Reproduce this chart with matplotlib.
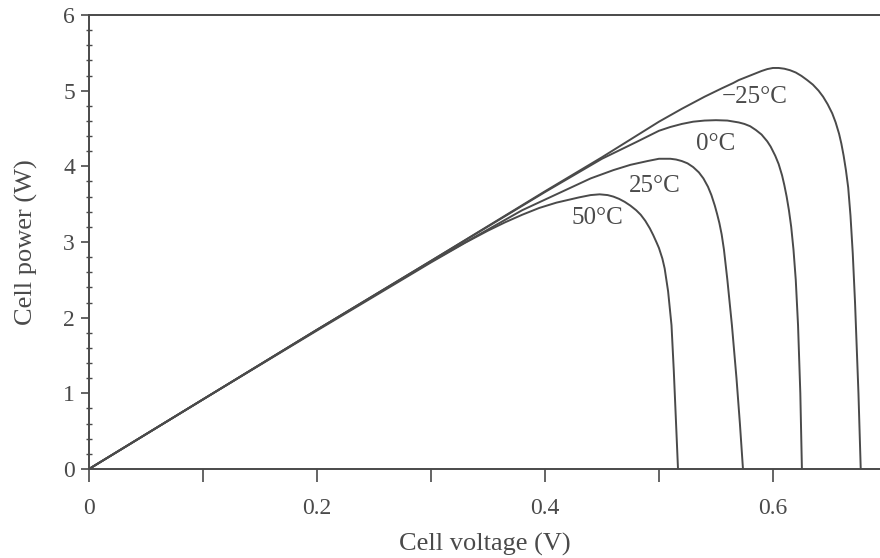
import matplotlib
matplotlib.use("Agg")
import matplotlib.pyplot as plt
from matplotlib.ticker import MultipleLocator

# power vs voltage curves, one pair of lists per temperature
v_m25 = [0.000, 0.100, 0.200, 0.300, 0.400, 0.450, 0.500, 0.520, 0.540, 0.555, 0.565,
         0.570, 0.580, 0.590, 0.595, 0.600, 0.605, 0.610, 0.615, 0.620, 0.625, 0.630,
         0.635, 0.640, 0.644, 0.648, 0.652, 0.655, 0.658, 0.660, 0.662, 0.664, 0.666,
         0.668, 0.670, 0.672, 0.674, 0.675, 0.676, 0.677]
p_m25 = [0.00, 0.92, 1.84, 2.75, 3.67, 4.12, 4.59, 4.76, 4.92, 5.03, 5.10,
         5.14, 5.20, 5.26, 5.285, 5.30, 5.30, 5.29, 5.27, 5.24, 5.195, 5.14,
         5.08, 5.00, 4.92, 4.82, 4.70, 4.58, 4.43, 4.30, 4.14, 3.95, 3.72,
         3.35, 2.85, 2.20, 1.40, 1.00, 0.50, 0.00]

v_0 = [0.000, 0.100, 0.200, 0.300, 0.400, 0.450, 0.480, 0.500, 0.510, 0.520, 0.530,
       0.540, 0.550, 0.560, 0.570, 0.575, 0.580, 0.585, 0.590, 0.595, 0.598, 0.602,
       0.605, 0.608, 0.610, 0.612, 0.614, 0.616, 0.618, 0.620, 0.622, 0.624, 0.6254]
p_0 = [0.00, 0.92, 1.84, 2.75, 3.66, 4.10, 4.32, 4.47, 4.52, 4.56, 4.59,
       4.605, 4.61, 4.605, 4.58, 4.56, 4.53, 4.48, 4.42, 4.33, 4.26, 4.14,
       4.03, 3.88, 3.75, 3.60, 3.42, 3.20, 2.90, 2.50, 1.90, 1.00, 0.00]

v_25 = [0.000, 0.100, 0.200, 0.300, 0.380, 0.400, 0.420, 0.440, 0.460, 0.475, 0.490,
        0.500, 0.510, 0.515, 0.520, 0.525, 0.530, 0.535, 0.539, 0.543, 0.546, 0.549,
        0.551, 0.553, 0.555, 0.557, 0.560, 0.564, 0.568, 0.571, 0.5737]
p_25 = [0.00, 0.92, 1.84, 2.74, 3.42, 3.56, 3.70, 3.84, 3.95, 4.02, 4.07,
        4.10, 4.10, 4.09, 4.07, 4.04, 3.99, 3.92, 3.84, 3.73, 3.62, 3.48,
        3.37, 3.25, 3.10, 2.90, 2.50, 1.90, 1.20, 0.60, 0.00]

v_50 = [0.000, 0.100, 0.200, 0.300, 0.330, 0.350, 0.365, 0.380, 0.395, 0.410, 0.430,
        0.440, 0.448, 0.455, 0.460, 0.465, 0.470, 0.475, 0.480, 0.484, 0.488, 0.492,
        0.495, 0.498, 0.500, 0.503, 0.505, 0.508, 0.511, 0.513, 0.515, 0.5167]
p_50 = [0.00, 0.92, 1.83, 2.73, 2.99, 3.15, 3.26, 3.36, 3.45, 3.52, 3.59,
        3.62, 3.63, 3.62, 3.60, 3.57, 3.53, 3.48, 3.42, 3.36, 3.28, 3.18,
        3.09, 2.99, 2.92, 2.78, 2.65, 2.35, 1.90, 1.30, 0.60, 0.00]

labels = ["\u221225\u00b0C", "0\u00b0C", "25\u00b0C", "50\u00b0C"]
label_v = [0.584, 0.550, 0.496, 0.446]
label_p = [4.92, 4.30, 3.74, 3.32]

x_ticks = [0, 0.2, 0.4, 0.6]
x_ticklabels = ["0", "0.2", "0.4", "0.6"]
y_ticks = [0, 1, 2, 3, 4, 5, 6]

plt.rcParams["font.family"] = ["Liberation Serif", "DejaVu Serif"]
ink = "#4a4a4a"

fig = plt.figure(figsize=(8.8, 5.58), dpi=100)
ax = fig.add_axes([89 / 880, 89 / 558, 791 / 880, 454 / 558])

for v, p in [(v_m25, p_m25), (v_0, p_0), (v_25, p_25), (v_50, p_50)]:
    ax.plot(v, p, color=ink, lw=1.4, solid_joinstyle="round")

for t, x, y in zip(labels, label_v, label_p):
    ax.text(x, y, t, fontsize=18, color=ink, ha="center", va="center")

ax.set_xlim(0, 0.6939)
ax.set_ylim(0, 6)

ax.spines["right"].set_visible(False)
for s in ["left", "top", "bottom"]:
    ax.spines[s].set_color(ink)
    ax.spines[s].set_linewidth(1.4)

ax.set_xticks(x_ticks)
ax.set_xticklabels(x_ticklabels)
ax.xaxis.set_minor_locator(MultipleLocator(0.1))
ax.set_yticks(y_ticks)
ax.yaxis.set_minor_locator(MultipleLocator(0.2))

ax.tick_params(axis="x", which="both", direction="out", length=9, width=1.2,
               color=ink, labelsize=17, labelcolor=ink, pad=12)
ax.tick_params(axis="y", which="major", direction="out", length=6, width=1.2,
               color=ink, labelsize=17, labelcolor=ink, pad=4)
ax.tick_params(axis="y", which="minor", direction="inout", length=4, width=1.0, color=ink)

ax.set_xlabel("Cell voltage (V)", fontsize=19, color=ink, labelpad=10)
ax.set_ylabel("Cell power (W)", fontsize=19, color=ink, labelpad=18)

fig.savefig("out.png", dpi=100)
